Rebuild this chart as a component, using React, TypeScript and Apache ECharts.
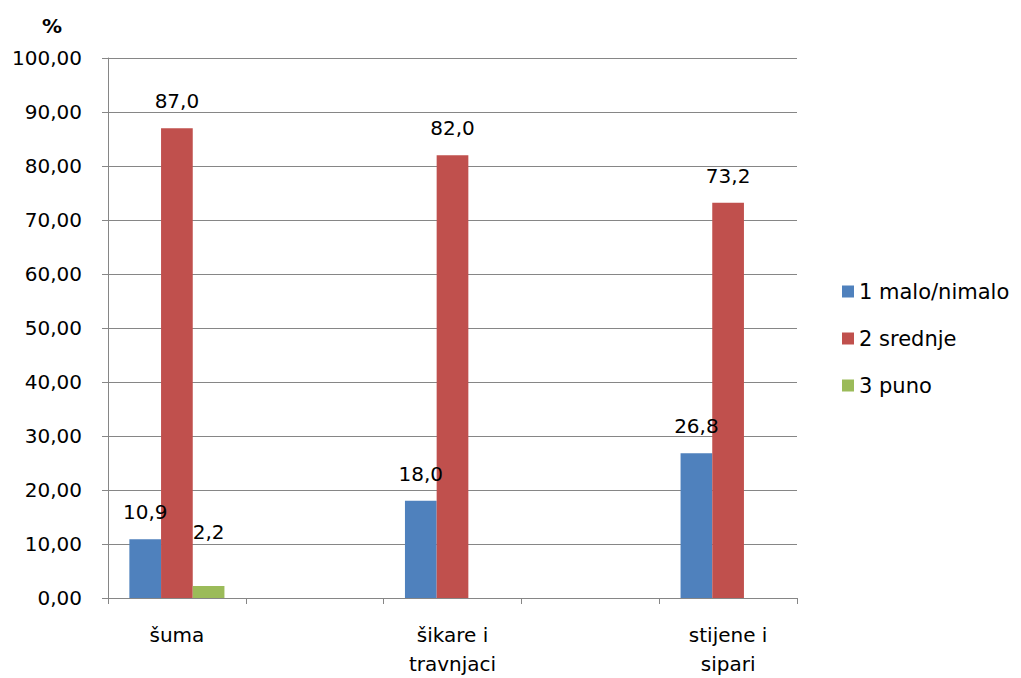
import React, { useEffect, useRef } from "react";
import * as echarts from "echarts";

const categories = ["šuma", "", "šikare i\ntravnjaci", "", "stijene i\nsipari"];
const seriesNames = ["1 malo/nimalo", "2 srednje", "3 puno"];
const maloValues = [10.9, null, 18.0, null, 26.8];
const srednjeValues = [87.0, null, 82.0, null, 73.2];
const punoValues = [2.2, null, null, null, null];
const colors = ["#4F81BD", "#C0504D", "#9BBB59"];

const FONT = "DejaVu Sans";

export default function App() {
  const ref = useRef<HTMLDivElement>(null);
  useEffect(() => {
    if (!ref.current) return;
    const chart = echarts.init(ref.current, undefined, { renderer: "svg" });
    const allData = [maloValues, srednjeValues, punoValues];
    const series = allData.map((vals, i) => ({
      name: seriesNames[i],
      type: "bar",
      barGap: "0%",
      barCategoryGap: "31%",
      itemStyle: { color: colors[i] },
      data: vals.map((v) =>
        v == null
          ? null
          : {
              value: v,
              label: { distance: v < 5 ? 44 : 17 },
            }
      ),
      label: {
        show: true,
        position: "top",
        color: "#000",
        fontFamily: FONT,
        fontSize: 20,
        formatter: (p: any) => (p.value == null ? "" : Number(p.value).toFixed(1).replace(".", ",")),
      },
    }));
    chart.setOption({
      animation: false,
      textStyle: { fontFamily: FONT },
      graphic: [
        {
          type: "text",
          left: 42,
          top: 16,
          style: { text: "%", fontFamily: FONT, fontSize: 20, fontWeight: "bold", fill: "#000" },
        },
      ],
      legend: {
        orient: "vertical",
        left: 837,
        top: 276,
        itemWidth: 12,
        itemHeight: 12,
        itemGap: 26,
        icon: "rect",
        textStyle: { fontFamily: FONT, fontSize: 21, color: "#000", lineHeight: 21 },
        data: seriesNames,
      },
      grid: { left: 108, right: 224, top: 58, bottom: 78, containLabel: false },
      xAxis: {
        type: "category",
        data: categories,
        axisLine: { lineStyle: { color: "#868686" } },
        axisTick: { show: true, interval: 0, alignWithLabel: false, length: 6, lineStyle: { color: "#868686" } },
        axisLabel: {
          interval: 0,
          color: "#000",
          fontFamily: FONT,
          fontSize: 20,
          lineHeight: 29,
          margin: 22,
        },
      },
      yAxis: {
        type: "value",
        min: 0,
        max: 100,
        interval: 10,
        axisLine: { show: true, lineStyle: { color: "#868686" } },
        axisTick: { show: true, length: 6, lineStyle: { color: "#868686" } },
        splitLine: { show: true, lineStyle: { color: "#868686" } },
        axisLabel: {
          color: "#000",
          fontFamily: FONT,
          fontSize: 20,
          margin: 26,
          formatter: (v: number) => v.toFixed(2).replace(".", ","),
        },
      },
      series,
    });
    return () => chart.dispose();
  }, []);
  return <div ref={ref} style={{ width: 1021, height: 678, position: "absolute", left: 0, top: 0 }} />;
}
